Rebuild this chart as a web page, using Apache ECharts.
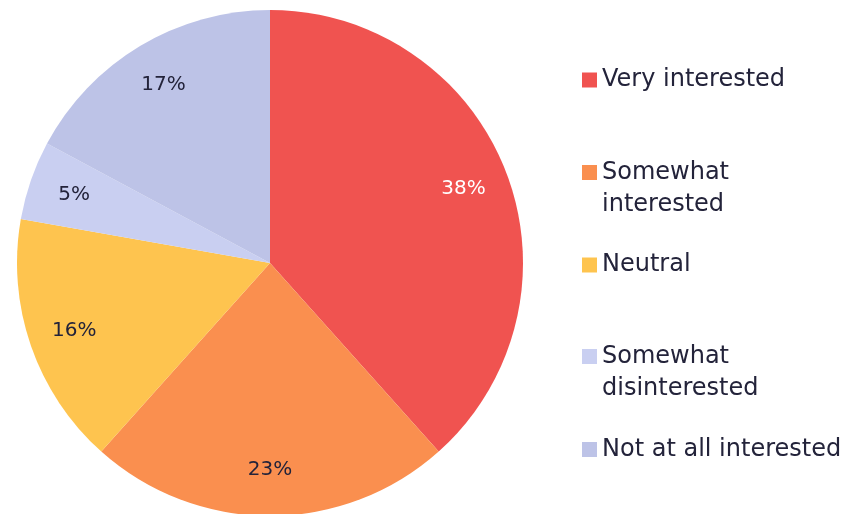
<!DOCTYPE html>
<html><head><meta charset="utf-8">
<script src="https://cdn.jsdelivr.net/npm/echarts@6/dist/echarts.min.js"></script>
<style>html,body{margin:0;padding:0;background:#fff}#c{width:848px;height:514px}</style>
</head><body><div id="c"></div>
<script>
const categories = ['Very interested', 'Somewhat interested', 'Neutral', 'Somewhat disinterested', 'Not at all interested'];
const legendLines = [['Very interested'], ['Somewhat', 'interested'], ['Neutral'], ['Somewhat', 'disinterested'], ['Not at all interested']];
const values = [38, 23, 16, 5, 17];
const colors = ['#F05350', '#FA8F4F', '#FEC44F', '#C9CFF1', '#BDC3E7'];
const labelColors = ['#ffffff', '#23233a', '#23233a', '#23233a', '#23233a'];

const FONT = 'DejaVu Sans';
const cx = 270, cy = 263, R = 253;
const legendIconCenters = [80, 172.5, 265, 356.5, 449.5];
const LH = 32;

const chart = echarts.init(document.getElementById('c'), null, {renderer: 'canvas'});
const legends = categories.map((name, i) => {
  const lines = legendLines[i];
  // pad with an empty first line so the first real line sits level with the icon
  const text = lines.length > 1 ? '\n' + lines.join('\n') : lines[0];
  const nLines = lines.length > 1 ? 3 : 1;
  return {
    orient: 'vertical',
    left: 582,
    top: legendIconCenters[i] - nLines * LH / 2,
    padding: 0,
    itemWidth: 15,
    itemHeight: 15,
    itemGap: 0,
    icon: 'rect',
    selectedMode: false,
    data: [name],
    formatter: () => text,
    textStyle: {fontFamily: FONT, fontSize: 24, color: '#23233a', lineHeight: LH}
  };
});

chart.setOption({
  animation: false,
  color: colors,
  legend: legends,
  series: [{
    type: 'pie',
    center: [cx, cy],
    radius: [0, R],
    startAngle: 90,
    clockwise: true,
    data: categories.map((n, i) => ({
      name: n, value: values[i],
      label: {color: labelColors[i]}
    })),
    label: {
      show: true,
      position: 'inside',
      formatter: p => p.value + '%',
      fontFamily: FONT,
      fontSize: 20
    },
    labelLine: {show: false},
    labelLayout: function (p) {
      const r = p.labelRect;
      const lx = r.x + r.width / 2, ly = r.y + r.height / 2;
      const k = 1.6;
      return {x: cx + (lx - cx) * k, y: cy + (ly - cy) * k};
    },
    emphasis: {disabled: true}
  }]
});
</script></body></html>
